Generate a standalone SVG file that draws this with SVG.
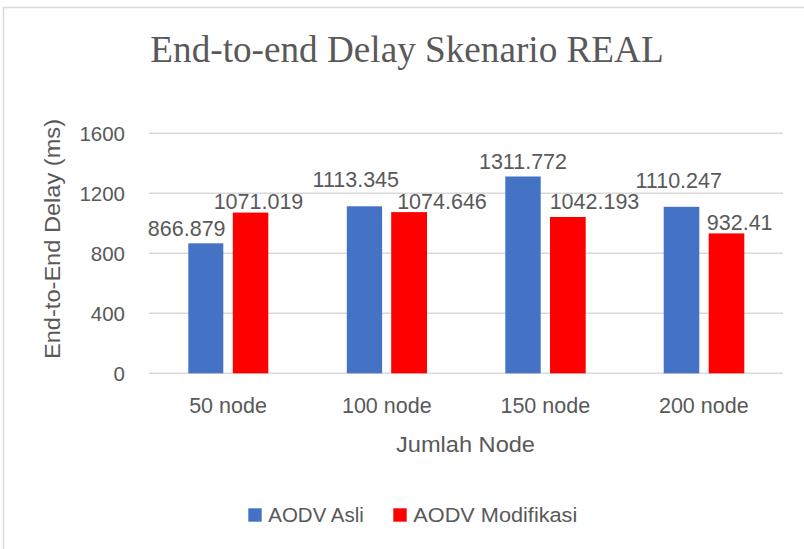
<svg xmlns="http://www.w3.org/2000/svg" width="804" height="549" viewBox="0 0 804 549">
<style>
text{font-family:"Liberation Sans",Arial,sans-serif;fill:#595959}
.title{font-family:"Liberation Serif","Times New Roman",serif;font-size:37.2px}
.tick{font-size:20.5px;text-anchor:end}
.cat{font-size:21.5px;text-anchor:middle}
.val{font-size:21.5px;text-anchor:middle}
.axt{font-size:22px;text-anchor:middle}
.leg{font-size:20.5px}
.grid{stroke:#d9d9d9;stroke-width:1.5}
.b{fill:#4472C4}
.r{fill:#FF0000}
</style>
<rect x="3.5" y="7.5" width="820" height="560" fill="#ffffff" stroke="#d9d9d9" stroke-width="1.5"/>
<text class="title" x="407" y="62" text-anchor="middle">End-to-end Delay Skenario REAL</text>
<g id="gridlines">
<line class="grid" x1="149" y1="133.3" x2="783" y2="133.3"/>
<line class="grid" x1="149" y1="193.3" x2="783" y2="193.3"/>
<line class="grid" x1="149" y1="253.3" x2="783" y2="253.3"/>
<line class="grid" x1="149" y1="313.3" x2="783" y2="313.3"/>
<line class="grid" x1="149" y1="373.3" x2="783" y2="373.3"/>
</g>
<g id="yticks">
<text class="tick" x="125" y="140.7">1600</text>
<text class="tick" x="125" y="200.7">1200</text>
<text class="tick" x="125" y="260.7">800</text>
<text class="tick" x="125" y="320.7">400</text>
<text class="tick" x="125" y="380.7">0</text>
</g>
<text class="axt" transform="translate(60,239) rotate(-90)" textLength="240" lengthAdjust="spacingAndGlyphs">End-to-End Delay (ms)</text>
<g id="n50">
<rect class="b" x="188.3" y="243.3" width="35" height="130"/>
<rect class="r" x="232.8" y="212.6" width="35.5" height="160.7"/>
<text class="val" x="186.7" y="236">866.879</text>
<text class="val" x="258.5" y="209">1071.019</text>
<text class="cat" x="228" y="412.7">50 node</text>
</g>
<g id="n100">
<rect class="b" x="346.8" y="206.3" width="35.3" height="167"/>
<rect class="r" x="391.2" y="212.1" width="35.8" height="161.2"/>
<text class="val" x="355.8" y="187.3">1113.345</text>
<text class="val" x="442" y="209">1074.646</text>
<text class="cat" x="386.8" y="412.7">100 node</text>
</g>
<g id="n150">
<rect class="b" x="505.3" y="176.5" width="35.4" height="196.8"/>
<rect class="r" x="550" y="217" width="35.7" height="156.3"/>
<text class="val" x="523" y="169">1311.772</text>
<text class="val" x="594.5" y="209.3">1042.193</text>
<text class="cat" x="545.3" y="412.7">150 node</text>
</g>
<g id="n200">
<rect class="b" x="663.7" y="206.8" width="35.6" height="166.5"/>
<rect class="r" x="708.7" y="233.4" width="35.6" height="139.9"/>
<text class="val" x="678.7" y="188.3">1110.247</text>
<text class="val" x="739.7" y="229.5">932.41</text>
<text class="cat" x="703.8" y="412.7">200 node</text>
</g>
<text class="axt" x="465.5" y="452" textLength="139" lengthAdjust="spacingAndGlyphs">Jumlah Node</text>
<g id="legend">
<rect class="b" x="248.3" y="508.3" width="13.4" height="13.4"/>
<text class="leg" x="268.3" y="521.7" textLength="95.5" lengthAdjust="spacingAndGlyphs">AODV Asli</text>
<rect class="r" x="393.3" y="508.3" width="13.4" height="13.4"/>
<text class="leg" x="413.3" y="521.7" textLength="164" lengthAdjust="spacingAndGlyphs">AODV Modifikasi</text>
</g>
</svg>
